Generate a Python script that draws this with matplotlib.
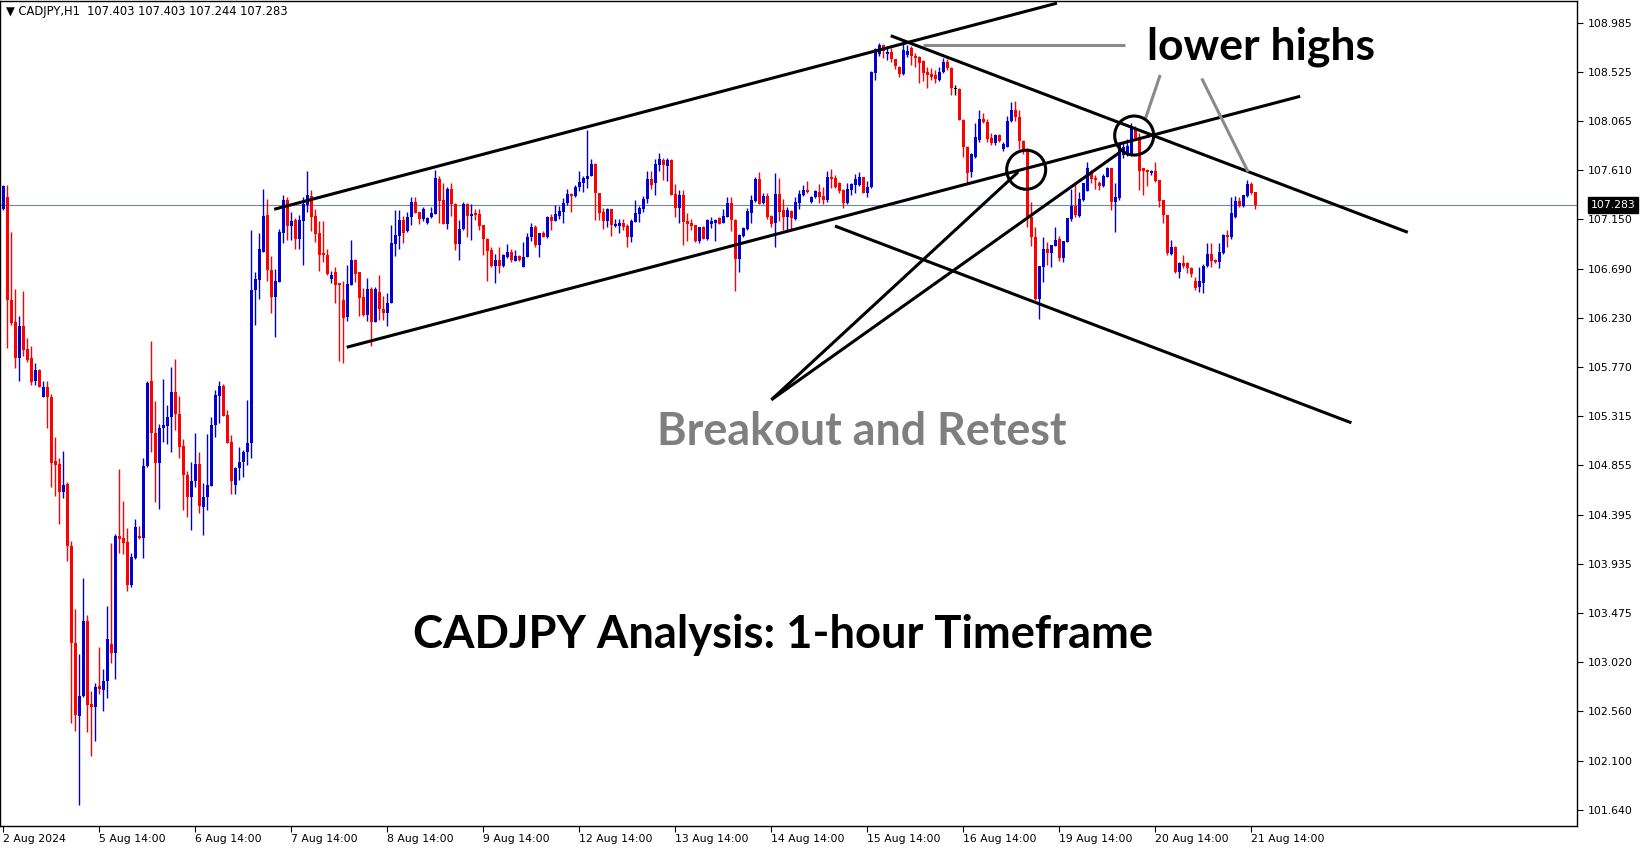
import matplotlib
matplotlib.use('Agg')
import matplotlib.pyplot as plt
from matplotlib.patches import Ellipse
import numpy as np

# CADJPY H1 candles, 2 Aug 14:00 -> 21 Aug 15:00
opens = [
    107.248, 107.355, 106.400, 106.194, 105.852, 106.156, 105.943, 105.859, 105.639, 105.745,
    105.494, 105.585, 105.494, 104.892, 104.870, 104.603, 104.679, 104.101, 103.195, 102.517,
    102.700, 103.404, 102.624, 102.601, 102.799, 102.757, 102.845, 103.184, 103.100, 104.192,
    104.173, 104.135, 103.735, 103.994, 104.192, 104.173, 104.851, 105.639, 105.155, 104.877,
    105.205, 105.220, 105.307, 105.536, 105.334, 105.037, 104.763, 104.558, 104.710, 104.870,
    104.470, 104.563, 104.665, 105.231, 105.502, 105.595, 105.324, 105.072, 104.671, 104.827,
    104.883, 104.982, 105.060, 106.490, 106.584, 106.848, 107.190, 106.677, 106.428, 106.568,
    107.025, 107.330, 107.087, 107.143, 106.963, 107.137, 107.283, 107.367, 107.180, 107.019,
    106.838, 106.817, 106.590, 106.658, 106.552, 106.397, 106.242, 106.537, 106.770, 106.658,
    106.428, 106.257, 106.500, 106.195, 106.472, 106.313, 106.273, 106.366, 106.920, 106.994,
    107.143, 107.044, 107.168, 107.308, 107.221, 107.149, 107.112, 107.174, 107.199, 107.525,
    107.330, 107.106, 107.432, 107.292, 106.919, 107.059, 107.292, 107.180, 107.211, 107.199,
    107.096, 106.969, 106.863, 106.714, 106.770, 106.714, 106.801, 106.848, 106.764, 106.810,
    106.708, 106.801, 106.981, 107.075, 106.910, 107.025, 106.988, 107.174, 107.137, 107.180,
    107.221, 107.299, 107.386, 107.367, 107.448, 107.491, 107.522, 107.556, 107.665, 107.392,
    107.221, 107.137, 107.245, 107.087, 107.087, 107.112, 107.087, 106.988, 107.128, 107.199,
    107.246, 107.336, 107.526, 107.486, 107.660, 107.703, 107.650, 107.703, 107.386, 107.259,
    107.377, 107.137, 107.112, 107.097, 106.951, 107.081, 106.963, 107.106, 107.119, 107.159,
    107.119, 107.175, 107.305, 107.143, 106.783, 106.997, 107.057, 107.212, 107.324, 107.526,
    107.305, 107.367, 107.181, 107.113, 107.386, 107.237, 107.175, 107.228, 107.150, 107.305,
    107.377, 107.423, 107.315, 107.361, 107.404, 107.367, 107.330, 107.547, 107.532, 107.485,
    107.423, 107.298, 107.423, 107.470, 107.470, 107.547, 107.392, 107.448, 108.517, 108.691,
    108.775, 108.691, 108.713, 108.641, 108.573, 108.505, 108.682, 108.744, 108.672, 108.666,
    108.629, 108.526, 108.505, 108.495, 108.449, 108.520, 108.620, 108.557, 108.362, 108.362,
    108.076, 107.821, 107.594, 107.734, 107.889, 108.082, 108.060, 107.905, 107.864, 107.936,
    107.802, 107.821, 108.069, 108.169, 108.100, 107.883, 107.802, 107.174, 106.981, 106.403,
    106.708, 106.870, 106.832, 106.901, 106.963, 106.786, 106.941, 107.150, 107.274, 107.180,
    107.329, 107.416, 107.584, 107.531, 107.485, 107.460, 107.547, 107.625, 107.314, 107.345,
    107.749, 107.760, 107.749, 107.998, 107.920, 107.625, 107.609, 107.584, 107.603, 107.516,
    107.329, 107.189, 106.826, 106.894, 106.661, 106.745, 106.739, 106.692, 106.577, 106.521,
    106.560, 106.714, 106.826, 106.769, 106.754, 106.838, 107.003, 106.981, 107.168, 107.323,
    107.273, 107.367, 107.479, 107.403,
]
highs = [
    107.470, 107.470, 107.030, 106.500, 106.250, 106.480, 106.040, 105.970, 105.810, 105.750,
    105.640, 105.640, 105.520, 105.120, 104.920, 104.990, 104.700, 104.150, 103.510, 103.090,
    103.800, 103.460, 102.750, 102.820, 103.160, 102.950, 103.540, 104.130, 104.210, 104.820,
    104.520, 104.270, 104.040, 104.350, 104.290, 104.920, 105.640, 106.010, 105.450, 105.240,
    105.660, 105.420, 105.770, 105.850, 105.500, 105.100, 104.800, 104.890, 105.155, 104.980,
    104.690, 105.150, 105.310, 105.560, 105.645, 105.610, 105.370, 105.140, 104.840, 105.030,
    105.000, 105.460, 107.050, 106.660, 107.020, 107.430, 107.340, 106.810, 106.690, 107.056,
    107.380, 107.360, 107.220, 107.160, 107.190, 107.360, 107.600, 107.420, 107.250, 107.130,
    107.130, 106.870, 106.670, 106.700, 106.560, 106.570, 106.720, 106.960, 106.780, 106.660,
    106.510, 106.600, 106.520, 106.515, 106.630, 106.430, 106.460, 107.100, 107.240, 107.240,
    107.180, 107.220, 107.354, 107.354, 107.221, 107.261, 107.168, 107.267, 107.609, 107.556,
    107.491, 107.448, 107.491, 107.299, 107.143, 107.314, 107.299, 107.292, 107.242, 107.242,
    107.096, 106.972, 106.894, 106.826, 106.894, 106.826, 106.916, 106.870, 106.863, 106.817,
    106.941, 107.025, 107.112, 107.096, 107.025, 107.044, 107.180, 107.199, 107.283, 107.274,
    107.345, 107.429, 107.392, 107.470, 107.603, 107.553, 107.982, 107.709, 107.678, 107.392,
    107.252, 107.252, 107.245, 107.149, 107.149, 107.150, 107.106, 107.150, 107.330, 107.274,
    107.367, 107.604, 107.604, 107.709, 107.772, 107.719, 107.719, 107.709, 107.479, 107.423,
    107.423, 107.212, 107.150, 107.097, 107.081, 107.087, 107.150, 107.168, 107.150, 107.168,
    107.243, 107.361, 107.355, 107.150, 107.013, 107.081, 107.252, 107.377, 107.541, 107.588,
    107.392, 107.392, 107.190, 107.585, 107.532, 107.336, 107.268, 107.237, 107.361, 107.423,
    107.470, 107.507, 107.367, 107.423, 107.479, 107.454, 107.603, 107.615, 107.563, 107.500,
    107.429, 107.485, 107.491, 107.572, 107.594, 107.547, 107.510, 108.536, 108.744, 108.791,
    108.784, 108.744, 108.744, 108.641, 108.579, 108.815, 108.775, 108.766, 108.697, 108.672,
    108.635, 108.573, 108.557, 108.542, 108.573, 108.651, 108.641, 108.567, 108.402, 108.371,
    108.082, 107.833, 107.771, 108.051, 108.169, 108.144, 108.082, 107.951, 107.945, 107.945,
    107.874, 108.113, 108.247, 108.250, 108.169, 107.890, 107.815, 107.314, 107.081, 106.714,
    106.988, 106.941, 106.910, 107.075, 106.994, 106.947, 107.159, 107.429, 107.485, 107.400,
    107.490, 107.687, 107.609, 107.560, 107.510, 107.570, 107.640, 107.630, 107.490, 107.870,
    107.860, 107.900, 108.050, 108.020, 107.950, 107.630, 107.620, 107.610, 107.687, 107.520,
    107.330, 107.190, 106.956, 106.900, 106.750, 106.816, 106.750, 106.700, 106.614, 106.707,
    106.730, 106.925, 106.925, 106.780, 106.925, 107.010, 107.050, 107.360, 107.367, 107.360,
    107.380, 107.516, 107.500, 107.403,
]
lows = [
    107.240, 105.950, 106.160, 105.760, 105.640, 105.870, 105.820, 105.600, 105.600, 105.585,
    105.490, 105.205, 104.650, 104.570, 104.310, 104.550, 103.960, 102.450, 102.380, 101.690,
    102.690, 102.370, 102.140, 102.280, 102.720, 102.560, 102.680, 103.010, 102.860, 104.040,
    104.030, 103.680, 103.720, 103.980, 104.170, 103.990, 104.840, 104.980, 104.510, 104.450,
    105.070, 105.050, 104.980, 105.180, 104.920, 104.440, 104.370, 104.250, 104.650, 104.410,
    104.200, 104.440, 104.665, 105.120, 105.250, 105.315, 105.066, 104.590, 104.590, 104.720,
    104.750, 104.860, 104.920, 106.160, 106.410, 106.848, 106.570, 106.280, 106.050, 106.568,
    106.925, 106.957, 106.957, 106.873, 106.873, 106.720, 107.220, 107.040, 106.940, 106.670,
    106.754, 106.630, 106.552, 106.366, 105.830, 105.810, 106.200, 106.537, 106.568, 106.250,
    106.250, 106.200, 105.970, 106.195, 106.210, 106.210, 106.150, 106.366, 106.810, 106.870,
    106.930, 107.030, 107.096, 107.205, 107.106, 107.137, 107.106, 107.158, 107.199, 107.112,
    107.106, 107.056, 107.180, 106.863, 106.770, 107.050, 106.981, 106.956, 107.143, 107.050,
    106.817, 106.577, 106.708, 106.559, 106.652, 106.708, 106.786, 106.754, 106.764, 106.764,
    106.708, 106.801, 106.950, 106.894, 106.795, 106.981, 106.972, 107.050, 107.137, 107.149,
    107.112, 107.283, 107.221, 107.354, 107.417, 107.407, 107.438, 107.553, 107.143, 107.143,
    107.056, 107.081, 106.994, 107.081, 107.019, 107.050, 106.895, 106.941, 107.128, 107.128,
    107.221, 107.305, 107.430, 107.377, 107.604, 107.517, 107.510, 107.377, 107.175, 107.112,
    106.910, 106.951, 107.050, 106.941, 106.932, 106.963, 106.957, 107.066, 106.951, 107.106,
    107.119, 107.168, 107.044, 106.484, 106.662, 106.982, 107.050, 107.113, 107.315, 107.293,
    107.293, 107.150, 107.081, 106.895, 107.137, 107.050, 107.050, 107.050, 107.143, 107.243,
    107.367, 107.392, 107.306, 107.346, 107.299, 107.292, 107.314, 107.438, 107.438, 107.392,
    107.252, 107.292, 107.376, 107.392, 107.460, 107.392, 107.361, 107.438, 108.449, 108.672,
    108.651, 108.635, 108.620, 108.548, 108.480, 108.495, 108.666, 108.589, 108.567, 108.424,
    108.442, 108.371, 108.449, 108.424, 108.442, 108.511, 108.542, 108.309, 108.309, 108.076,
    107.727, 107.485, 107.547, 107.718, 107.874, 108.051, 107.874, 107.842, 107.842, 107.874,
    107.790, 107.821, 108.060, 108.070, 107.802, 107.760, 107.081, 106.900, 106.397, 106.217,
    106.568, 106.723, 106.708, 106.901, 106.764, 106.754, 106.941, 107.137, 107.174, 107.170,
    107.320, 107.410, 107.485, 107.430, 107.420, 107.450, 107.540, 107.236, 107.030, 107.330,
    107.720, 107.740, 107.740, 107.890, 107.420, 107.376, 107.460, 107.560, 107.500, 107.267,
    107.118, 106.820, 106.820, 106.650, 106.600, 106.692, 106.652, 106.614, 106.490, 106.474,
    106.459, 106.700, 106.707, 106.740, 106.692, 106.830, 106.894, 106.970, 107.160, 107.260,
    107.260, 107.360, 107.390, 107.244,
]
closes = [
    107.458, 106.400, 106.183, 105.859, 106.156, 105.935, 105.840, 105.631, 105.745, 105.585,
    105.585, 105.494, 104.877, 104.862, 104.603, 104.672, 104.101, 103.195, 102.521, 102.700,
    103.404, 102.617, 102.601, 102.788, 102.769, 102.845, 103.233, 103.100, 104.192, 104.166,
    104.128, 103.735, 104.002, 104.280, 104.173, 104.851, 105.623, 105.155, 104.877, 105.205,
    105.231, 105.307, 105.536, 105.334, 105.030, 104.763, 104.558, 104.710, 104.870, 104.476,
    104.563, 104.671, 105.231, 105.511, 105.595, 105.315, 105.066, 104.709, 104.827, 104.883,
    104.982, 105.060, 106.490, 106.590, 106.873, 107.180, 106.677, 106.428, 106.574, 107.034,
    107.330, 107.087, 107.137, 106.963, 107.143, 107.292, 107.376, 107.174, 107.012, 106.817,
    106.817, 106.640, 106.630, 106.537, 106.537, 106.232, 106.543, 106.770, 106.639, 106.419,
    106.254, 106.500, 106.195, 106.500, 106.313, 106.273, 106.366, 106.926, 107.003, 107.143,
    107.025, 107.174, 107.308, 107.211, 107.152, 107.242, 107.158, 107.205, 107.532, 107.323,
    107.106, 107.432, 107.292, 106.919, 107.059, 107.292, 107.180, 107.199, 107.190, 107.090,
    106.963, 106.857, 106.714, 106.770, 106.714, 106.817, 106.848, 106.770, 106.810, 106.770,
    106.801, 106.988, 107.081, 106.910, 107.025, 106.988, 107.174, 107.137, 107.199, 107.230,
    107.305, 107.386, 107.367, 107.454, 107.501, 107.538, 107.556, 107.665, 107.392, 107.211,
    107.137, 107.245, 107.096, 107.106, 107.112, 107.075, 106.988, 107.137, 107.206, 107.252,
    107.336, 107.526, 107.470, 107.666, 107.713, 107.653, 107.703, 107.377, 107.259, 107.377,
    107.128, 107.106, 107.087, 106.951, 107.081, 106.963, 107.143, 107.137, 107.143, 107.106,
    107.181, 107.305, 107.143, 106.783, 107.004, 107.066, 107.231, 107.330, 107.526, 107.293,
    107.367, 107.168, 107.106, 107.386, 107.221, 107.175, 107.237, 107.159, 107.315, 107.386,
    107.423, 107.405, 107.361, 107.414, 107.361, 107.330, 107.547, 107.522, 107.448, 107.416,
    107.298, 107.429, 107.479, 107.522, 107.547, 107.392, 107.454, 108.526, 108.735, 108.775,
    108.722, 108.713, 108.641, 108.579, 108.505, 108.728, 108.722, 108.672, 108.651, 108.610,
    108.517, 108.495, 108.480, 108.455, 108.526, 108.620, 108.557, 108.371, 108.362, 108.076,
    107.821, 107.578, 107.758, 107.920, 108.082, 108.060, 107.895, 107.858, 107.936, 107.883,
    107.852, 108.069, 108.169, 108.100, 107.883, 107.802, 107.174, 106.981, 106.403, 106.714,
    106.870, 106.832, 106.910, 106.957, 106.786, 106.947, 107.159, 107.274, 107.190, 107.336,
    107.485, 107.625, 107.522, 107.516, 107.460, 107.553, 107.625, 107.314, 107.354, 107.858,
    107.827, 107.830, 108.007, 107.904, 107.603, 107.600, 107.594, 107.603, 107.510, 107.323,
    107.189, 106.832, 106.894, 106.661, 106.745, 106.714, 106.692, 106.639, 106.505, 106.577,
    106.714, 106.826, 106.763, 106.754, 106.847, 107.003, 106.981, 107.205, 107.323, 107.273,
    107.376, 107.479, 107.398, 107.283,
]

date_labels = ["2 Aug 2024", "5 Aug 14:00", "6 Aug 14:00", "7 Aug 14:00", "8 Aug 14:00",
               "9 Aug 14:00", "12 Aug 14:00", "13 Aug 14:00", "14 Aug 14:00", "15 Aug 14:00",
               "16 Aug 14:00", "19 Aug 14:00", "20 Aug 14:00", "21 Aug 14:00"]
price_ticks = [108.985, 108.525, 108.065, 107.610, 107.150, 106.690, 106.230, 105.770,
               105.315, 104.855, 104.395, 103.935, 103.475, 103.020, 102.560, 102.100, 101.640]

# drawn trendlines (candle index, price)
trend_lines = [
    ((67.7, 107.243), (263.4, 109.166)),
    ((85.85, 105.956), (324.2, 108.297)),
    ((221.85, 108.862), (351.1, 107.028)),
    ((207.9, 107.087), (337.0, 105.251)),
    ((192.0, 105.466), (253.7, 107.591)),
    ((192.0, 105.466), (279.2, 107.777)),
]
pointer_lines = [
    ((229.9, 108.776), (280.4, 108.776)),
    ((289.2, 108.496), (285.4, 108.076)),
    ((299.6, 108.463), (311.2, 107.591)),
]
circles = [(255.7, 107.612), (282.7, 107.931)]

o = np.array(opens)
h = np.array(highs)
l = np.array(lows)
c = np.array(closes)
idx = np.arange(len(c))
last = c[-1]

cols = np.where(np.abs(c - o) < 0.001, 'black', np.where(c > o, '#0000d0', '#ff0000'))

fig = plt.figure(figsize=(16.41, 8.5), dpi=100)
ax = fig.add_axes([0.0, 24 / 850, 1577 / 1641, 825 / 850])

ax.axhline(last, color='#778899', lw=0.8, zorder=1)
ax.vlines(idx, l, h, colors=cols, lw=1.0, zorder=2)
ax.bar(idx, np.maximum(np.abs(c - o), 0.008), bottom=np.minimum(o, c), width=0.75,
       color=cols, linewidth=0, zorder=3)

for (x0, y0), (x1, y1) in trend_lines:
    ax.plot([x0, x1], [y0, y1], color='black', lw=2.2, solid_capstyle='butt', zorder=4)
for (x0, y0), (x1, y1) in pointer_lines:
    ax.plot([x0, x1], [y0, y1], color='#8a8a8a', lw=2.2, solid_capstyle='butt', zorder=4)
for cx, cy in circles:
    ax.add_patch(Ellipse((cx, cy), 9.75, 0.364, fill=False, ec='black', lw=2.2, zorder=5))

ax.text(314.4, 108.76, 'lower highs', ha='center', va='center', fontsize=32,
        fontweight='bold', family='Lato', color='black')
ax.text(214.7, 105.165, 'Breakout and Retest', ha='center', va='center', fontsize=32.3,
        fontweight='bold', family='Lato', color='#7f7f7f')
ax.text(194.9, 103.272, 'CADJPY Analysis: 1-hour Timeframe', ha='center', va='center',
        fontsize=32.7, fontweight='bold', family='Lato', color='black')

ax.set_xlim(-0.83, 393.4)
ax.set_ylim(101.490, 109.186)

ax.yaxis.tick_right()
ax.set_yticks(price_ticks)
ax.set_yticklabels([f'{v:.3f}' for v in price_ticks])
ax.tick_params(axis='y', direction='out', length=4, width=0.8, labelsize=7.8, pad=4)
ax.set_xticks(idx[::24])
ax.set_xticklabels(date_labels, ha='left')
ax.tick_params(axis='x', direction='out', length=4, width=0.8, labelsize=7.8, pad=2)
for s in ['top', 'bottom', 'left', 'right']:
    ax.spines[s].set_color('black')
    ax.spines[s].set_linewidth(1.0)

ax.text(1.0085, last, f'{last:.3f}', transform=ax.get_yaxis_transform(), ha='left',
        va='center', color='white', fontsize=7.8,
        bbox=dict(boxstyle='square,pad=0.25', fc='black', ec='black'))

fig.text(6 / 1641, 1 - 12 / 850,
         f'\u25BC CADJPY,H1  {o[-1]:.3f} {h[-1]:.3f} {l[-1]:.3f} {c[-1]:.3f}',
         fontsize=8.3, ha='left', va='center')

fig.savefig('out.png', dpi=100)
